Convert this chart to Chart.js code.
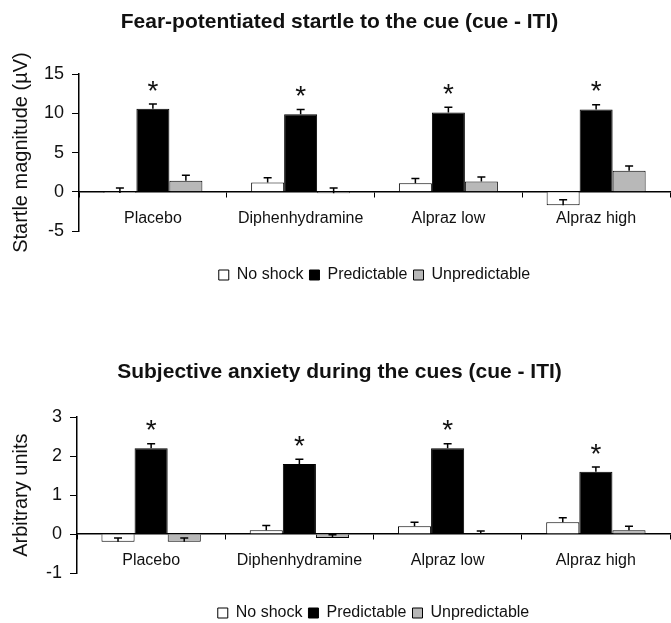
<!DOCTYPE html>
<html>
<head>
<meta charset="utf-8">
<script src="https://cdn.jsdelivr.net/npm/chart.js@4.4.0/dist/chart.umd.min.js"></script>
<style>
  html, body { margin: 0; background: #fff; overflow: hidden; }
  #page { position: relative; width: 671px; height: 623px; overflow: hidden; }
  canvas { position: absolute; left: 0; }
</style>
</head>
<body>
<div id="page">
  <canvas id="startleChart" width="671" height="300" style="top:0"></canvas>
  <canvas id="anxietyChart" width="671" height="331" style="top:300px"></canvas>
</div>
<script>
const drugs = ['Placebo', 'Diphenhydramine', 'Alpraz low', 'Alpraz high'];
const seriesNames = ['No shock', 'Predictable', 'Unpredictable'];

// top panel: fear-potentiated startle (µV)
const startleNoShock = [-0.15, 1.2, 1.1, -1.7];
const startleNoShockErr = [0.65, 0.6, 0.6, 0.7];
const startlePredictable = [10.6, 9.9, 10.1, 10.5];
const startlePredictableErr = [0.6, 0.6, 0.7, 0.6];
const startleUnpredictable = [1.4, -0.2, 1.3, 2.7];
const startleUnpredictableErr = [0.7, 0.7, 0.6, 0.6];
const startleTicks = [-5, 0, 5, 10, 15];

// bottom panel: subjective anxiety (arbitrary units)
const anxietyNoShock = [-0.2, 0.1, 0.2, 0.3];
const anxietyNoShockErr = [0.1, 0.12, 0.1, 0.12];
const anxietyPredictable = [2.2, 1.8, 2.2, 1.6];
const anxietyPredictableErr = [0.12, 0.12, 0.12, 0.12];
const anxietyUnpredictable = [-0.2, -0.1, 0.0, 0.1];
const anxietyUnpredictableErr = [0.1, 0.08, 0.08, 0.1];
const anxietyTicks = [-1, 0, 1, 2, 3];

const fills = ['#ffffff', '#000000', '#b8b8b8'];
const fontFamily = 'Arial, "Liberation Sans", sans-serif';

// error bars (plus direction only) and the significance stars
const errorBarsPlugin = {
  id: 'errorBars',
  afterDatasetsDraw(chart) {
    const ctx = chart.ctx;
    const yScale = chart.scales.y;
    chart.data.datasets.forEach((ds, i) => {
      const meta = chart.getDatasetMeta(i);
      meta.data.forEach((bar, j) => {
        const top = yScale.getPixelForValue(ds.data[j] + ds.errors[j]);
        ctx.save();
        ctx.strokeStyle = '#000';
        ctx.lineWidth = 1.5;
        ctx.beginPath();
        ctx.moveTo(bar.x, bar.y);
        ctx.lineTo(bar.x, top);
        ctx.moveTo(bar.x - 4, top);
        ctx.lineTo(bar.x + 4, top);
        ctx.stroke();
        if (ds.starred) {
          ctx.fillStyle = '#111';
          ctx.font = '28px ' + fontFamily;
          ctx.textAlign = 'center';
          ctx.textBaseline = 'middle';
          ctx.fillText('*', bar.x, top - 12);
        }
        ctx.restore();
      });
    });
  }
};

function makeChart(id, p) {
  const datasets = seriesNames.map((name, i) => ({
    label: name,
    data: p.values[i],
    errors: p.errors[i],
    starred: i === 1,
    xAxisID: 'x',
    backgroundColor: fills[i],
    borderColor: '#000',
    borderWidth: 1,
    categoryPercentage: 0.67,
    barPercentage: 1.0
  }));

  return new Chart(document.getElementById(id), {
    type: 'bar',
    data: { labels: drugs, datasets: datasets },
    plugins: [errorBarsPlugin],
    options: {
      responsive: false,
      animation: false,
      layout: { padding: { left: 9, right: 1, top: 0, bottom: p.padBottom } },
      plugins: {
        title: {
          display: true,
          text: p.title,
          color: '#111',
          font: { family: fontFamily, size: 21, weight: 'bold' },
          padding: { top: p.titleTop, bottom: p.titleBottom }
        },
        legend: {
          position: 'bottom',
          fullSize: false,
          labels: {
            color: '#111',
            boxWidth: 10,
            boxHeight: 10,
            padding: 6,
            font: { family: fontFamily, size: 16 }
          }
        },
        tooltip: { enabled: false }
      },
      scales: {
        x: {
          position: { y: 0 },
          grid: { display: true, drawOnChartArea: false, tickLength: 5, color: '#000', offset: true },
          border: { display: true, color: '#000', width: 1.5 },
          ticks: { color: '#111', padding: 12, font: { family: fontFamily, size: 16 } }
        },
        // empty bottom axis that only keeps room between the plot and the legend
        spacer: {
          type: 'category',
          position: 'bottom',
          grid: { display: false },
          border: { display: false },
          ticks: { display: false },
          afterFit: s => { s.height = p.gap; }
        },
        y: {
          min: p.ticks[0],
          max: p.ticks[p.ticks.length - 1],
          afterBuildTicks: s => { s.ticks = p.ticks.map(v => ({ value: v })); },
          grid: { drawOnChartArea: false, tickLength: 7, color: '#000' },
          border: { display: true, color: '#000', width: 1.5 },
          ticks: { color: '#111', padding: 8, font: { family: fontFamily, size: 18 } },
          title: {
            display: true,
            text: p.yTitle,
            color: '#111',
            font: { family: fontFamily, size: 20 },
            padding: { top: 0, bottom: p.yTitleGap }
          }
        }
      }
    }
  });
}

makeChart('startleChart', {
  title: 'Fear-potentiated startle to the cue (cue - ITI)',
  yTitle: 'Startle magnitude (µV)',
  values: [startleNoShock, startlePredictable, startleUnpredictable],
  errors: [startleNoShockErr, startlePredictableErr, startleUnpredictableErr],
  ticks: startleTicks,
  titleTop: 10, titleBottom: 39, gap: 30, padBottom: 7, yTitleGap: 3
});

makeChart('anxietyChart', {
  title: 'Subjective anxiety during the cues (cue - ITI)',
  yTitle: 'Arbitrary units',
  values: [anxietyNoShock, anxietyPredictable, anxietyUnpredictable],
  errors: [anxietyNoShockErr, anxietyPredictableErr, anxietyUnpredictableErr],
  ticks: anxietyTicks,
  titleTop: 60, titleBottom: 32, gap: 26, padBottom: 0, yTitleGap: 5
});
</script>
</body>
</html>
